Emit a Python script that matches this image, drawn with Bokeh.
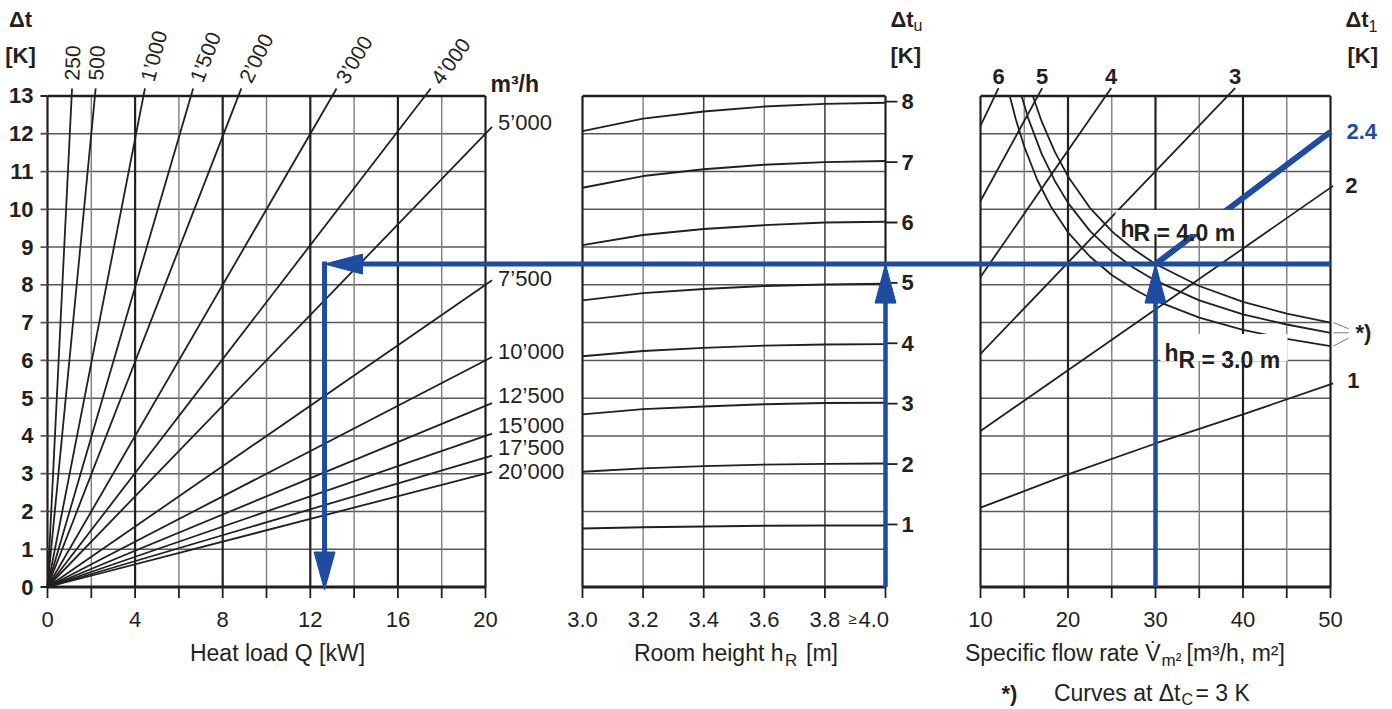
import math
from bokeh.plotting import figure
from bokeh.models import Range1d
from bokeh.core.properties import value
from bokeh.embed import file_html
from bokeh.resources import INLINE

# ============================ DATA ============================
# Panel 1 - heat load Q [kW] against Δt [K]: one straight line per air flow [m³/h]
flow_labels = ["250", "500", "1’000", "1’500", "2’000", "3’000", "4’000",
               "5’000", "7’500", "10’000", "12’500", "15’000", "17’500", "20’000"]
flow_end_q = [1.12, 2.2, 4.45, 6.65, 8.85, 13.2, 17.5,
              20.3, 20.3, 20.3, 20.3, 20.3, 20.3, 20.3]
flow_end_dt = [13.2, 13.2, 13.2, 13.2, 13.2, 13.2, 13.2,
               12.18, 8.12, 6.09, 4.87, 4.06, 3.48, 3.05]
q_ticks = [0, 4, 8, 12, 16, 20]
q_minor = [2, 6, 10, 14, 18]
dt_ticks = [0, 1, 2, 3, 4, 5, 6, 7, 8, 9, 10, 11, 12, 13]

# Panel 2 - room height h_R [m]; curves for Δt_u = 1 ... 8 K
hr_values = [3.0, 3.2, 3.4, 3.6, 3.8, 4.0]
dtu_curves = {
    1: [1.55, 1.58, 1.60, 1.62, 1.63, 1.63],
    2: [3.05, 3.14, 3.20, 3.24, 3.26, 3.27],
    3: [4.57, 4.71, 4.78, 4.84, 4.87, 4.88],
    4: [6.11, 6.25, 6.33, 6.39, 6.42, 6.43],
    5: [7.59, 7.78, 7.89, 7.97, 8.01, 8.03],
    6: [9.05, 9.32, 9.48, 9.58, 9.65, 9.67],
    7: [10.57, 10.88, 11.06, 11.18, 11.25, 11.28],
    8: [12.07, 12.40, 12.59, 12.72, 12.79, 12.82],
}
hr_tick_labels = ["3.0", "3.2", "3.4", "3.6", "3.8"]
hr_ticks = [3.0, 3.2, 3.4, 3.6, 3.8]
hr_major = [3.0, 4.0]
hr_medium = [3.4, 3.8]
hr_minor = [3.2, 3.6]
dtu_ticks = [1, 2, 3, 4, 5, 6, 7, 8]
dt_at_dtu1, dt_at_dtu8 = 1.656, 12.849     # Δt position of the Δt_u ticks 1 and 8

# Panel 3 - specific flow rate [m³/h, m²]; lines for Δt_1 = 1 ... 6 K
v_ticks = [10, 20, 30, 40, 50]
v_minor = [15, 25, 35, 45]
dt1_labels = ["1", "2", "3", "4", "5", "6"]
dt1_v = [[10, 20, 30, 40, 50.3], [10, 50.3], [10, 39.1], [10, 24.94], [10, 17.05], [10, 12.06]]
dt1_dt = [[2.10, 2.98, 3.80, 4.57, 5.39], [4.13, 10.62], [6.17, 13.21],
          [8.21, 13.21], [10.22, 13.21], [12.21, 13.21]]
# curves at Δt_C = 3 K for h_R = 4.0 m, (3.5 m), 3.0 m
hrc_v = {
    "4.0": [15.98, 17, 18.5, 20, 22.5, 25, 27.5, 30, 35, 40, 45, 50],
    "3.5": [14.69, 15.5, 17, 18.5, 20, 22.5, 25, 27.5, 30, 35, 40, 45, 50],
    "3.0": [13.35, 14, 15, 16.5, 18, 20, 22.5, 25, 27.5, 30, 35, 40, 45, 50],
}
hrc_dt = {
    "4.0": [13.0, 12.32, 11.52, 10.87, 10.04, 9.42, 8.94, 8.55, 7.97, 7.55, 7.24, 7.00],
    "3.5": [13.0, 12.38, 11.46, 10.75, 10.17, 9.43, 8.88, 8.45, 8.11, 7.59, 7.22, 6.95, 6.73],
    "3.0": [13.0, 12.41, 11.66, 10.77, 10.09, 9.39, 8.75, 8.26, 7.89, 7.58, 7.13, 6.81, 6.57, 6.38],
}

# Worked example (blue)
ex_q = 12.65        # kW
ex_dt = 8.55        # K
ex_hr = 4.0         # m
ex_v = 30           # m³/h, m²
ex_dt1 = "2.4"
ex_line_v = [30, 50]
ex_line_dt = [8.55, 12.05]

# ============================ LAYOUT / STYLE ============================
FONT = value("Liberation Sans")
INK = "#231f20"
GRID_H = "#595959"
GRID_MED = "#3a3a3a"
GRID_MINOR = "#7d7d7d"
BLUE = "#1d4ca0"

W, HEIGHT = 1390, 707
PX_K = 37.77                      # px per kelvin (shared vertical scale)
PAGE_Y0 = 586.5                   # page y of Δt = 0
Y_LO = -(HEIGHT - PAGE_Y0) / PX_K
Y_HI = PAGE_Y0 / PX_K
# horizontal placement of the three panels: (page x of first value, first value, px per unit)
P1 = (47, q_ticks[0], 21.9)
P2 = (582, hr_values[0], 303.0)
P3 = (980, v_ticks[0], 8.75)


def xrange_for(pl):
    x_page, x0, px = pl
    start = x0 - x_page / px
    return Range1d(start, start + W / px)


p = figure(width=W, height=HEIGHT, x_range=xrange_for(P1), y_range=Range1d(Y_LO, Y_HI),
           output_backend="svg", toolbar_location=None, x_axis_location=None,
           y_axis_location=None, min_border=0, title=None)
p.outline_line_color = None
p.grid.visible = False
dtu_b = (dt_at_dtu8 - dt_at_dtu1) / (dtu_ticks[-1] - dtu_ticks[0])
dtu_a = dt_at_dtu1 - dtu_b * dtu_ticks[0]
p.extra_x_ranges = {"hr": xrange_for(P2), "v": xrange_for(P3)}
p.extra_y_ranges = {"dtu": Range1d((Y_LO - dtu_a) / dtu_b, (Y_HI - dtu_a) / dtu_b)}

X1 = {}                     # panel 1 uses the default range
X2 = {"x_range_name": "hr"}
X3 = {"x_range_name": "v"}


def txt(xs, ys, texts, size=22, bold=False, align="left", baseline="middle",
        dx=0, dy=0, color=INK, angle=0, **kw):
    n = len(texts)

    def vec(v):
        return list(v) if isinstance(v, (list, tuple)) else [v] * n

    p.text(x=vec(xs), y=vec(ys), text=list(texts), x_offset=vec(dx), y_offset=vec(dy),
           angle=vec(angle), text_font=FONT, text_font_size=value(f"{size}px"),
           text_font_style="bold" if bold else "normal", text_align=align,
           text_baseline=baseline, text_color=color, **kw)


def draw_grid(x_lo, x_hi, major, medium, minor, xr):
    inner = dt_ticks[1:-1]
    n = len(inner)
    p.segment(x0=[x_lo] * n, y0=inner, x1=[x_hi] * n, y1=inner, line_color=GRID_H,
              line_width=1.5, **xr)
    for xs, col, lw in ((minor, GRID_MINOR, 1.4), (medium, GRID_MED, 1.5), (major, INK, 2.2)):
        if xs:
            m = len(xs)
            p.segment(x0=xs, y0=[dt_ticks[0]] * m, x1=xs, y1=[dt_ticks[-1]] * m,
                      line_color=col, line_width=lw, **xr)
    allx = sorted(major + medium + minor)
    t = 11 / PX_K
    p.segment(x0=allx, y0=[0] * len(allx), x1=allx, y1=[-t] * len(allx),
              line_color=INK, line_width=1.8, **xr)
    p.segment(x0=[x_lo, x_lo], y0=[dt_ticks[-1], dt_ticks[0]], x1=[x_hi, x_hi],
              y1=[dt_ticks[-1], dt_ticks[0]], line_color=INK, line_width=[2.4, 3.2], **xr)


def v_to_q(v):
    """panel-3 flow value -> panel-1 heat-load coordinate (same screen x)"""
    page = P3[0] + (v - P3[1]) * P3[2]
    return P1[1] + (page - P1[0]) / P1[2]


# ---------------------------- panel 1 ----------------------------
PXQ = P1[2]
draw_grid(q_ticks[0], q_ticks[-1], q_ticks, [], q_minor, X1)
lt = 7 / PXQ
p.segment(x0=[0] * len(dt_ticks), y0=dt_ticks, x1=[-lt] * len(dt_ticks), y1=dt_ticks,
          line_color=[INK if d in (dt_ticks[0], dt_ticks[-1]) else GRID_H for d in dt_ticks],
          line_width=1.8)
p.multi_line(xs=[[0, q] for q in flow_end_q], ys=[[0, d] for d in flow_end_dt],
             line_color=INK, line_width=1.8)

k = 7
top_angles = [88, 87, 75, 69, 64, 59, 54]
rad = [math.radians(a) for a in top_angles]
txt(flow_end_q[:k], flow_end_dt[:k], flow_labels[:k], size=21, angle=rad,
    dx=[8 * math.cos(r) for r in rad], dy=[-8 * math.sin(r) for r in rad])
txt(flow_end_q[k:], flow_end_dt[k:], flow_labels[k:], size=22, dx=6,
    dy=[-4, -2, -5, -8, -8, -8, 0])
txt([q_ticks[-1]], [dt_ticks[-1]], ["m³/h"], size=23, bold=True, dx=5, dy=-12)

txt([0] * len(dt_ticks), dt_ticks, [str(d) for d in dt_ticks], bold=True, align="right", dx=-14)
txt(q_ticks, [0] * len(q_ticks), [str(q) for q in q_ticks], align="center", dy=32)
txt([(q_ticks[0] + q_ticks[-1]) / 2], [0], ["Heat load Q [kW]"], size=23, align="center", dx=11, dy=66)
txt([0, 0], [dt_ticks[-1]] * 2, ["Δt", "[K]"], bold=True, align="center", dx=-27, dy=[-76, -40])

# ---------------------------- panel 2 ----------------------------
PXH = P2[2]
draw_grid(hr_values[0], hr_values[-1], hr_major, hr_medium, hr_minor, X2)
p.multi_line(xs=[hr_values] * len(dtu_ticks), ys=[dtu_curves[t] for t in dtu_ticks],
             line_color=INK, line_width=1.9, **X2)
rt = 12 / PXH
n8 = len(dtu_ticks)
p.segment(x0=[hr_values[-1]] * n8, y0=dtu_ticks, x1=[hr_values[-1] + rt] * n8, y1=dtu_ticks,
          y_range_name="dtu", line_color=INK, line_width=1.8, **X2)
txt([hr_values[-1]] * n8, dtu_ticks, [str(t) for t in dtu_ticks], bold=True, dx=16,
    y_range_name="dtu", **X2)

txt(hr_ticks, [0] * len(hr_ticks), hr_tick_labels, align="center", dy=32, **X2)
txt([hr_values[-1]], [0], ["4.0"], dx=-27, dy=32, **X2)
txt([hr_values[-1]], [0], ["≥"], size=15, align="right", dx=-29, dy=31, **X2)
mid_h = (hr_values[0] + hr_values[-1]) / 2
txt([mid_h], [0], ["Room height h"], size=23, align="right", dx=49.5, dy=66, **X2)
txt([mid_h], [0], ["R"], size=17, dx=51, dy=73, **X2)
txt([mid_h], [0], ["[m]"], size=23, dx=72, dy=66, **X2)
txt([hr_values[-1]] * 2, [dt_ticks[-1]] * 2, ["Δt", "[K]"], bold=True, dx=5, dy=[-76, -40], **X2)
txt([hr_values[-1]], [dt_ticks[-1]], ["u"], size=16, dx=28, dy=-70, **X2)

# ---------------------------- panel 3 ----------------------------
PXV = P3[2]
draw_grid(v_ticks[0], v_ticks[-1], v_ticks, [], v_minor, X3)
p.multi_line(xs=dt1_v, ys=dt1_dt, line_color=INK, line_width=1.8, **X3)
keys = ["4.0", "3.5", "3.0"]
p.multi_line(xs=[hrc_v[c] for c in keys], ys=[hrc_dt[c] for c in keys], line_color=INK,
             line_width=1.8, **X3)
ends = [hrc_dt[c][-1] for c in keys]
mid_end = ends[1]
p.segment(x0=[v_ticks[-1] + 3 / PXV] * 3, y0=ends, x1=[v_ticks[-1] + 18 / PXV] * 3,
          y1=[mid_end + (e - mid_end) * 0.4 for e in ends], line_color="#777777",
          line_width=1, **X3)
txt([v_ticks[-1]], [mid_end], ["*)"], bold=True, dx=25, **X3)

txt([v[-1] for v in dt1_v[2:]], [d[-1] for d in dt1_dt[2:]], dt1_labels[2:], bold=True,
    align="center", dy=-12, **X3)
txt([dt1_v[1][-1], dt1_v[0][-1]], [dt1_dt[1][-1], dt1_dt[0][-1]], [dt1_labels[1], dt1_labels[0]],
    bold=True, dx=[12, 14], dy=[0, -3], **X3)

txt(v_ticks, [0] * len(v_ticks), [str(v) for v in v_ticks], align="center", dy=32, **X3)
mid_v = (v_ticks[0] + v_ticks[-1]) / 2
txt([mid_v], [0], ["Specific flow rate V\u0307"], size=23, align="right", dx=5, dy=66, **X3)
txt([mid_v], [0], ["m²"], size=17, dx=6, dy=73, **X3)
txt([mid_v], [0], ["[m³/h, m²]"], size=23, dx=31, dy=66, **X3)
txt([v_ticks[0]], [0], ["*)"], bold=True, dx=21, dy=106, **X3)
txt([v_ticks[0]], [0], ["Curves at Δt"], size=23, align="right", dx=200, dy=106, **X3)
txt([v_ticks[0]], [0], ["C"], size=16, dx=201, dy=112, **X3)
txt([v_ticks[0]], [0], ["= 3 K"], size=23, dx=215, dy=106, **X3)
txt([v_ticks[-1]] * 2, [dt_ticks[-1]] * 2, ["Δt", "[K]"], bold=True, dx=[15, 17], dy=[-76, -40], **X3)
txt([v_ticks[-1]], [dt_ticks[-1]], ["1"], size=16, dx=38, dy=-70, **X3)

# ---------------------------- worked example (blue) ----------------------------
hl, hw = 38, 10
# horizontal: from the result in panel 1 to the right edge of panel 3
p.segment(x0=[ex_q + hl / 2 / PXQ], y0=[ex_dt], x1=[v_to_q(ex_line_v[-1])], y1=[ex_dt],
          line_color=BLUE, line_width=5)
tip_y = -3 / PX_K
p.segment(x0=[ex_q], y0=[ex_dt + 2.5 / PX_K], x1=[ex_q], y1=[tip_y + 30 / PX_K],
          line_color=BLUE, line_width=5)
p.patch(x=[ex_q, ex_q + hl / PXQ, ex_q + hl / PXQ],
        y=[ex_dt, ex_dt + hw / PX_K, ex_dt - hw / PX_K], color=BLUE)
p.patch(x=[ex_q, ex_q - 10.5 / PXQ, ex_q + 10.5 / PXQ],
        y=[tip_y, tip_y + hl / PX_K, tip_y + hl / PX_K], color=BLUE)

p.segment(x0=[ex_hr], y0=[0], x1=[ex_hr], y1=[ex_dt - 30 / PX_K], line_color=BLUE,
          line_width=4.5, **X2)
p.patch(x=[ex_hr, ex_hr - 10.5 / PXH, ex_hr + 10.5 / PXH],
        y=[ex_dt, ex_dt - 39 / PX_K, ex_dt - 39 / PX_K], color=BLUE, **X2)

p.segment(x0=[ex_v], y0=[0], x1=[ex_v], y1=[ex_dt - 30 / PX_K], line_color=BLUE,
          line_width=4.5, **X3)
p.patch(x=[ex_v, ex_v - 10.5 / PXV, ex_v + 10.5 / PXV],
        y=[ex_dt, ex_dt - 39 / PX_K, ex_dt - 39 / PX_K], color=BLUE, **X3)
p.line(x=ex_line_v, y=ex_line_dt, line_color=BLUE, line_width=6, **X3)
txt([ex_line_v[-1]], [ex_line_dt[-1]], [ex_dt1], bold=True, color=BLUE, dx=16, **X3)


def box(x, y, l, r, t, b):
    p.quad(left=[x + l / PXV], right=[x + r / PXV], top=[y - t / PX_K], bottom=[y - b / PX_K],
           fill_color="white", line_color=None, **X3)


box(ex_v, ex_dt, -40, 85, -54, -30)
txt([ex_v], [ex_dt], ["h"], size=23, bold=True, baseline="alphabetic", dx=-35, dy=-35, **X3)
txt([ex_v], [ex_dt], ["R = 4.0 m"], size=23, bold=True, baseline="alphabetic", dx=-22, dy=-31, **X3)
box(ex_v, ex_dt, 5, 132, 70, 97)
txt([ex_v], [ex_dt], ["h"], size=23, bold=True, baseline="alphabetic", dx=9, dy=88.5, **X3)
txt([ex_v], [ex_dt], ["R = 3.0 m"], size=23, bold=True, baseline="alphabetic", dx=23, dy=95.5, **X3)

open("out.html", "w").write(file_html(p, INLINE))
